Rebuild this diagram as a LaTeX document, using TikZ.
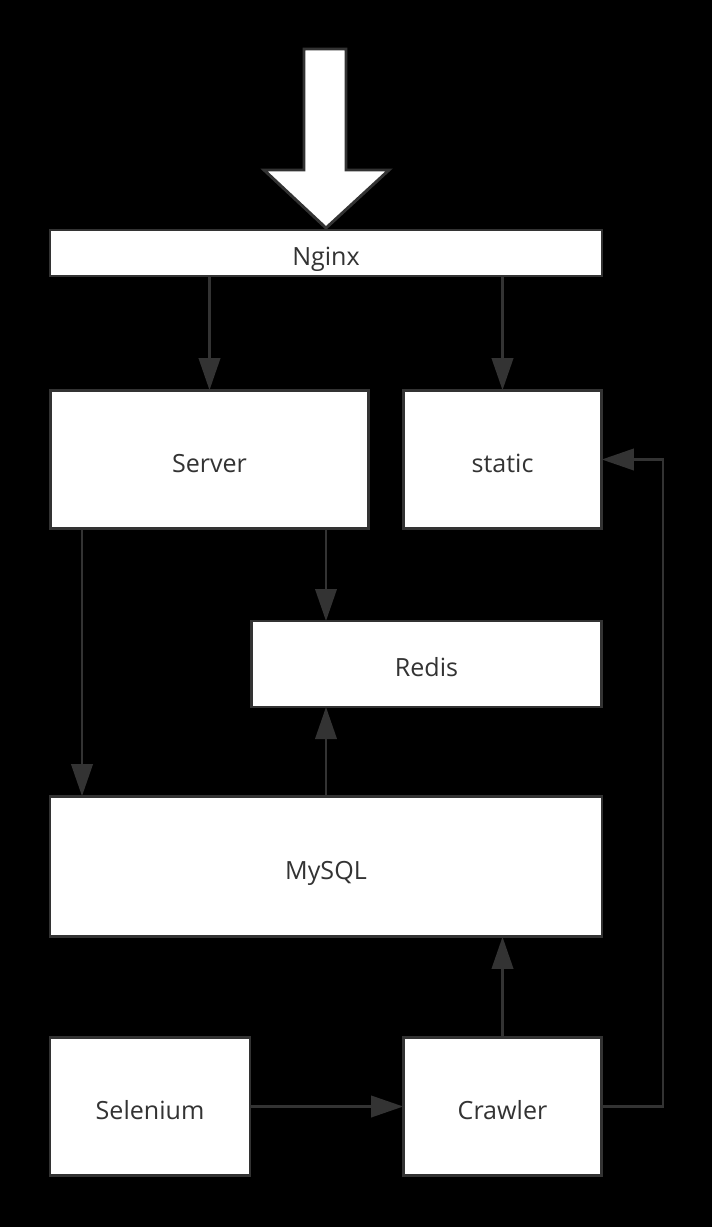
\documentclass[tikz,border=0pt]{standalone}
\usepackage{fontspec}
\setmainfont{Open Sans}
\usetikzlibrary{arrows.meta}
\definecolor{ink}{HTML}{333333}
\begin{document}
\begin{tikzpicture}[x=0.75pt,y=-0.75pt,
  box/.style={draw=ink,fill=white,line width=2.2pt,inner sep=0pt,outer sep=0pt,
    text=ink,font=\fontsize{18.8}{22}\selectfont,text height=18.8pt,text depth=0pt},
  arr/.style={draw=ink,line width=2pt,-{Triangle[length=24pt,width=16pt]}}]
\useasboundingbox (0,0) rectangle (712,1227);
\fill[black] (0,0) rectangle (712,1227);
\node[box,minimum width=414pt,minimum height=34.5pt] (nginx) at (326,253) {Nginx};
\node[box,minimum width=239pt,minimum height=104pt] (server) at (209.5,459.5) {Server};
\node[box,minimum width=149pt,minimum height=104pt] (static) at (502.5,459.5) {static};
\node[box,minimum width=263pt,minimum height=64.5pt] (redis) at (426.5,664) {Redis};
\node[box,minimum width=414pt,minimum height=105.5pt] (mysql) at (326,866.5) {MySQL};
\node[box,minimum width=150pt,minimum height=104pt] (selenium) at (150,1106.5) {Selenium};
\node[box,minimum width=149pt,minimum height=104pt] (crawler) at (502.5,1106.5) {Crawler};
% big entry arrow
\draw[draw=ink,fill=white,line width=2.2pt,line join=miter]
  (304,49) -- (346,49) -- (346,170) -- (389,170) -- (326,228) -- (264,170) -- (304,170) -- cycle;
\coordinate (c1) at (82,0);
\coordinate (bend) at (663,1106.5);
\draw[arr] (nginx.south -| server.north) -- (server.north);
\draw[arr] (nginx.south -| static.north) -- (static.north);
\draw[arr] (server.south -| c1) -- (mysql.north -| c1);
\draw[arr] (server.south -| mysql.north) -- (redis.north -| mysql.north);
\draw[arr] (mysql.north) -- (redis.south -| mysql.north);
\draw[arr] (crawler.north) -- (mysql.south -| crawler.north);
\draw[arr] (selenium.east) -- (crawler.west);
\draw[arr] (crawler.east) -- (bend) |- (static.east);
\end{tikzpicture}
\end{document}
